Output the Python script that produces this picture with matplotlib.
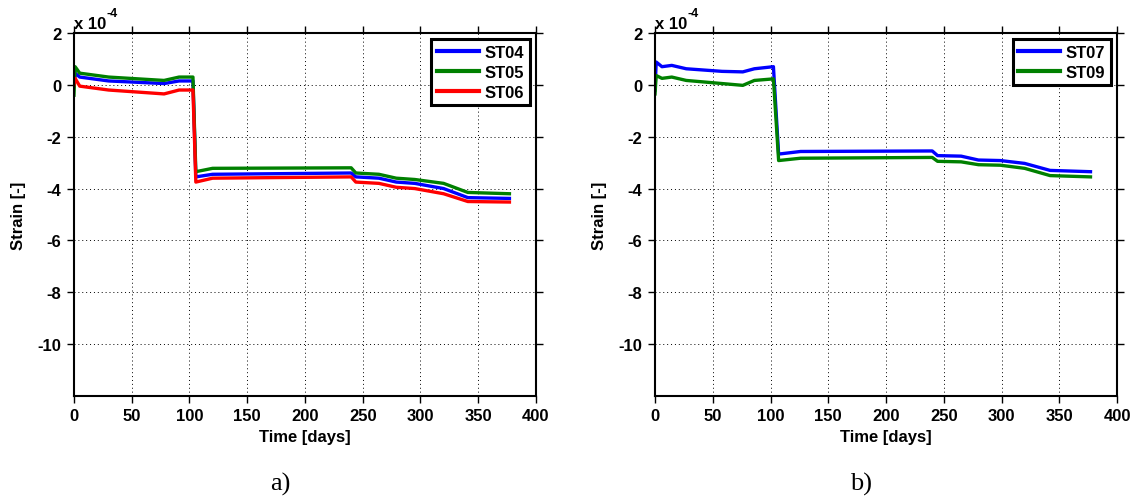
import matplotlib
matplotlib.use("Agg")
import matplotlib.pyplot as plt

plt.rcParams['font.family'] = ['Liberation Sans', 'DejaVu Sans']
plt.rcParams['axes.unicode_minus'] = False

# strain values in units of 1e-4
days_a = [0, 1, 5, 30, 78, 91, 103, 105.5, 120, 240, 244, 264, 279, 295, 320, 341, 377]
st04 = [0.0, 0.45, 0.3, 0.15, 0.05, 0.15, 0.15, -3.55, -3.45, -3.4, -3.55, -3.6, -3.75, -3.8, -4.0, -4.35, -4.38]
st05 = [-0.4, 0.7, 0.45, 0.3, 0.17, 0.3, 0.3, -3.35, -3.22, -3.2, -3.4, -3.45, -3.6, -3.65, -3.8, -4.15, -4.2]
st06 = [0.0, 0.25, -0.05, -0.2, -0.35, -0.2, -0.2, -3.75, -3.6, -3.55, -3.75, -3.8, -3.95, -4.0, -4.2, -4.5, -4.52]

days_b = [0, 1, 6, 14.5, 27, 58, 76, 86, 102.5, 107, 126, 240, 244.6, 265, 280, 299, 320, 342, 377]
st07 = [-0.2, 0.88, 0.7, 0.75, 0.62, 0.52, 0.5, 0.62, 0.7, -2.67, -2.57, -2.55, -2.73, -2.75, -2.9, -2.92, -3.03, -3.3, -3.35]
st09 = [-0.35, 0.36, 0.25, 0.3, 0.17, 0.05, -0.02, 0.17, 0.23, -2.92, -2.83, -2.8, -2.95, -2.97, -3.08, -3.1, -3.22, -3.5, -3.55]

panels = [
    ([0.0650, 0.2092, 0.4060, 0.7231], days_a,
     [('ST04', st04, '#0000ff'), ('ST05', st05, '#008000'), ('ST06', st06, '#ff0000')], 'a)'),
    ([0.5756, 0.2092, 0.4060, 0.7231], days_b,
     [('ST07', st07, '#0000ff'), ('ST09', st09, '#008000')], 'b)'),
]

fig = plt.figure(figsize=(11.38, 5.02), dpi=100)

for rect, days, series, tag in panels:
    ax = fig.add_axes(rect)
    for name, vals, col in series:
        ax.plot(days, vals, color=col, lw=2.4, label=name)
    ax.set_xlim(0, 400)
    ax.set_ylim(-12, 2)
    ax.set_xticks(range(0, 401, 50))
    ax.set_yticks([-10, -8, -6, -4, -2, 0, 2])
    ax.grid(True, color='black', ls=(0, (1, 3)), lw=0.7)
    ax.tick_params(direction='out', top=True, right=True, length=5, width=1,
                   labelsize=12, pad=4)
    for lbl in ax.get_xticklabels() + ax.get_yticklabels():
        lbl.set_fontweight('bold')
    for sp in ax.spines.values():
        sp.set_linewidth(1.5)
    ax.set_xlabel('Time [days]', fontsize=12, fontweight='bold', labelpad=4)
    ax.set_ylabel('Strain [-]', fontsize=12, fontweight='bold')
    ax.yaxis.set_label_coords(-0.104, 0.5)
    base = ax.text(0.0, 1.015, 'x 10', transform=ax.transAxes,
                   fontsize=12, fontweight='bold', ha='left', va='baseline')
    ax.annotate('-4', xy=(1, 1), xycoords=base, xytext=(0.5, -2.5),
                textcoords='offset points', fontsize=9, fontweight='bold',
                ha='left', va='bottom')
    leg = ax.legend(loc='upper right', fancybox=False, framealpha=1,
                    edgecolor='black', handlelength=2.5, borderpad=0.35,
                    labelspacing=0.3, handletextpad=0.35, borderaxespad=0.35,
                    prop={'weight': 'bold', 'size': 12})
    leg.get_frame().set_linewidth(2.2)
    for h in leg.get_lines():
        h.set_linewidth(3.0)
    ax.text(0.446, -0.242, tag, transform=ax.transAxes, ha='center', va='center',
            fontsize=19, family='Liberation Serif')

fig.savefig('out.png', dpi=100)
